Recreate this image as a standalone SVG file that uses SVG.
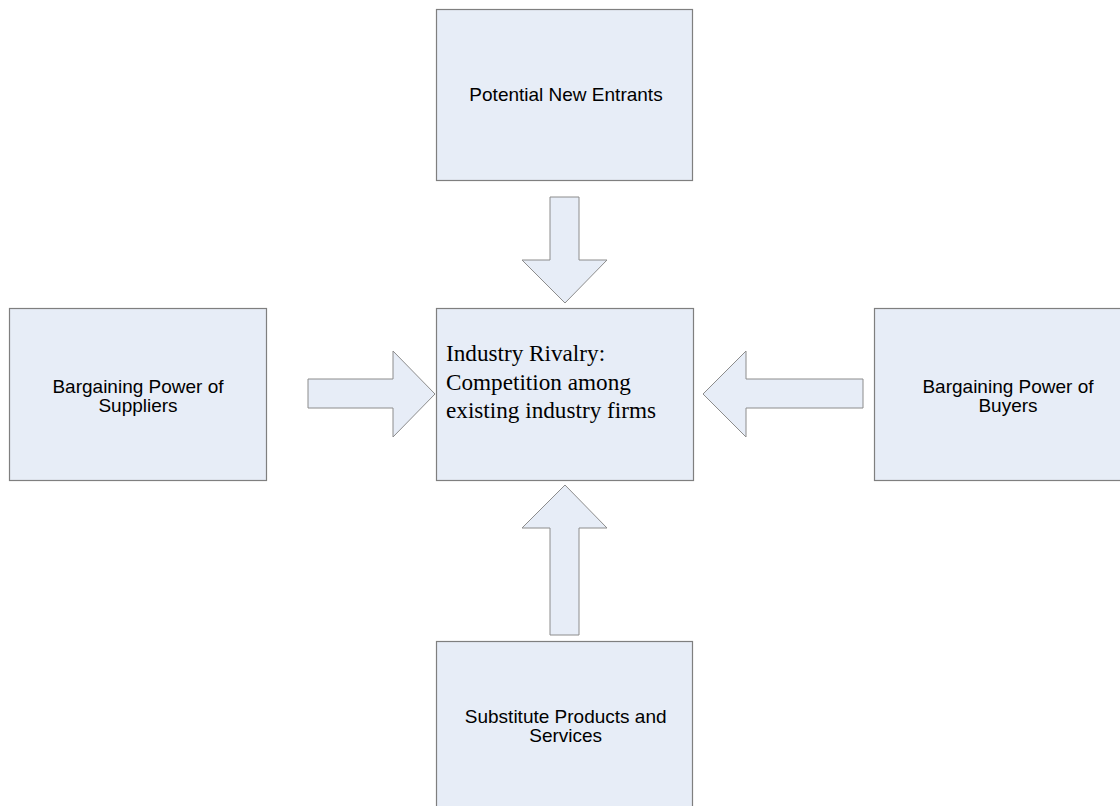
<svg xmlns="http://www.w3.org/2000/svg" width="1120" height="806" viewBox="0 0 1120 806">
<style>
.box{fill:#E7EDF7;stroke:#7F7F7F;stroke-width:1.2}
.arr{fill:#E7EDF7;stroke:#8C8C8C;stroke-width:1}
.lbl{font-family:"Liberation Sans",Arial,sans-serif;font-size:19px;fill:#000;text-anchor:middle}
.ser{font-family:"Liberation Serif","Times New Roman",serif;font-size:23.2px;fill:#000}
</style>
<rect width="1120" height="806" fill="#fff"/>
<g id="connectors">
<polygon class="arr" points="550,197 579,197 579,260 607,260 565,303 522,260 550,260"/>
<polygon class="arr" points="308,379 393,379 393,351 435,394 393,437 393,408 308,408"/>
<polygon class="arr" points="863,379 746,379 746,351 703,394 746,437 746,408 863,408"/>
<polygon class="arr" points="550,635 550,528 522,528 565,485 607,528 579,528 579,635"/>
</g>
<g id="new-entrants">
<rect class="box" x="436.5" y="9.5" width="256" height="171"/>
<text class="lbl" x="566" y="100.5">Potential New Entrants</text>
</g>
<g id="suppliers">
<rect class="box" x="9.5" y="308.5" width="257" height="172"/>
<text class="lbl" x="138" y="392.5">Bargaining Power of</text>
<text class="lbl" x="138" y="411.5">Suppliers</text>
</g>
<g id="rivalry">
<rect class="box" x="436.5" y="308.5" width="257" height="172"/>
<text class="ser" x="446" y="361">Industry Rivalry:</text>
<text class="ser" x="446" y="389.7">Competition among</text>
<text class="ser" x="446" y="418.4">existing industry firms</text>
</g>
<g id="buyers">
<rect class="box" x="874.5" y="308.5" width="268" height="172"/>
<text class="lbl" x="1008" y="392.5">Bargaining Power of</text>
<text class="lbl" x="1008" y="411.5">Buyers</text>
</g>
<g id="substitutes">
<rect class="box" x="436.5" y="641.5" width="256" height="172"/>
<text class="lbl" x="565.7" y="722.5">Substitute Products and</text>
<text class="lbl" x="565.7" y="741.5">Services</text>
</g>
</svg>
